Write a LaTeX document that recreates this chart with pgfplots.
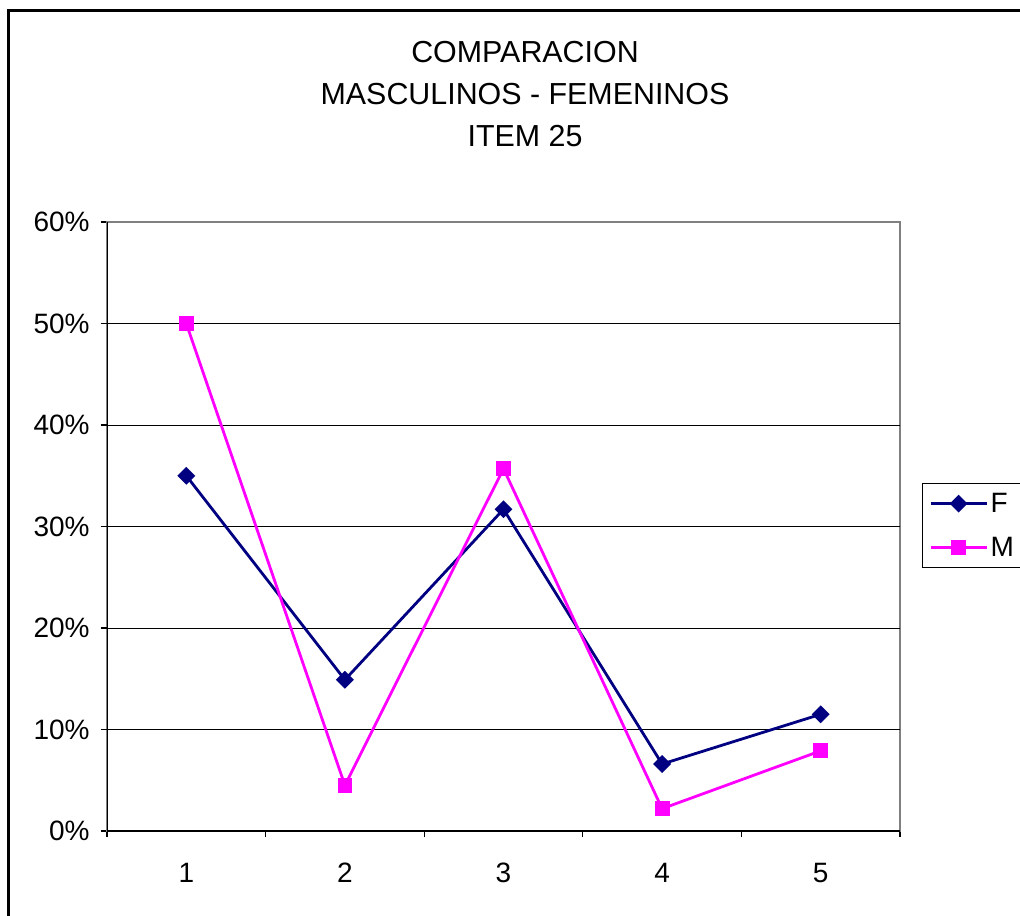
\documentclass[border=0pt]{standalone}
\usepackage{pgfplots}
\pgfplotsset{compat=1.18}
\usepackage{fontspec}
\setmainfont{Liberation Sans}
\definecolor{fcol}{HTML}{000080}
\definecolor{mcol}{HTML}{FF00FF}
\definecolor{bordergray}{HTML}{808080}
\begin{document}
\begin{tikzpicture}
\clip (0pt,0pt) rectangle (765pt,-686.25pt);
\draw[line width=2.25pt] (6pt,-7.5pt) rectangle (820pt,-740pt);
\node[font=\fontsize{22.8}{27}\selectfont, anchor=base] at (393.75pt,-46.5pt) {COMPARACION};
\node[font=\fontsize{22.8}{27}\selectfont, anchor=base] at (393.75pt,-78.5pt) {MASCULINOS - FEMENINOS};
\node[font=\fontsize{22.8}{27}\selectfont, anchor=base] at (393.75pt,-109.5pt) {ITEM 25};
\begin{axis}[
  at={(80.25pt,-623.25pt)}, anchor=south west,
  scale only axis, width=594.75pt, height=456.75pt,
  xmin=0.5, xmax=5.5, ymin=0, ymax=60,
  axis line style={draw=bordergray, line width=0.9pt},
  xtick={0.5,1.5,...,5.5},
  x tick label as interval,
  xticklabels={1,2,3,4,5},
  ytick={0,10,...,60},
  yticklabels={0\%,10\%,20\%,30\%,40\%,50\%,60\%},
  extra y ticks={10,20,30,40,50},
  extra y tick labels={},
  extra y tick style={grid=major},
  grid style={black, line width=0.75pt},
  tick align=outside,
  major tick length=4.5pt,
  tick style={black, line width=0.9pt},
  xtick pos=bottom, ytick pos=left,
  tick label style={font=\fontsize{21}{25}\selectfont},
  yticklabel style={xshift=-5pt},
  xticklabel style={yshift=-16pt},
  legend style={at={(rel axis cs:1.0277,0.5714)}, anchor=north west,
    draw=black, line width=0.9pt, font=\fontsize{21}{25}\selectfont,
    inner xsep=5pt, inner ysep=5pt, row sep=13pt},
  legend cell align=left,
  legend image code/.code={\draw[mark repeat=2,mark phase=2] plot coordinates {(0pt,0pt)(21pt,0pt)(42pt,0pt)};},
]
\addplot[fcol, line width=2.1pt, mark=square*, mark size=3.7pt, mark options={rotate=45, solid}]
  coordinates {(1,35.0) (2,14.9) (3,31.7) (4,6.6) (5,11.5)};
\addlegendentry{F}
\addplot[mcol, line width=2.1pt, mark=square*, mark size=4.5pt, mark options={solid}]
  coordinates {(1,50.0) (2,4.5) (3,35.7) (4,2.2) (5,7.9)};
\addlegendentry{M}
\draw[black, line width=0.9pt] (rel axis cs:0,1) -- (rel axis cs:0,0) -- (rel axis cs:1,0);
\end{axis}
\end{tikzpicture}
\end{document}
